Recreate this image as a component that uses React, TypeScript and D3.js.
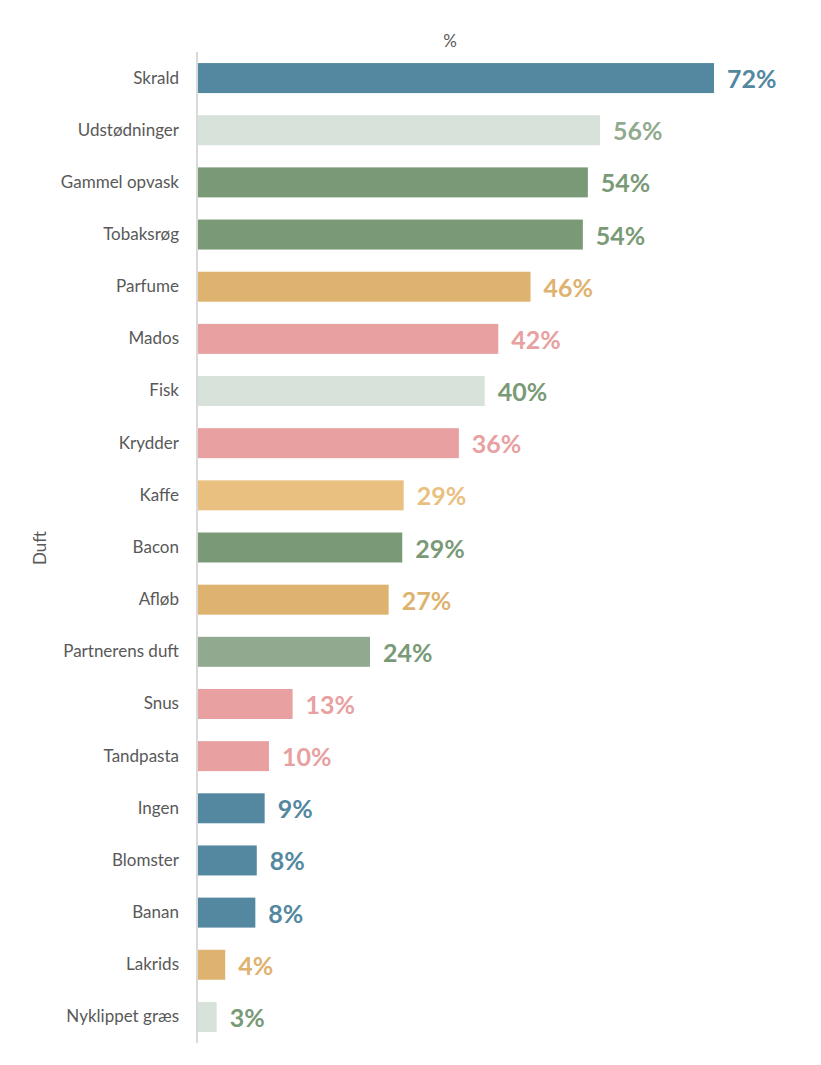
import React, { useEffect, useRef } from "react";
import * as d3 from "d3";

const categories = [
  "Skrald", "Udstødninger", "Gammel opvask", "Tobaksrøg", "Parfume", "Mados", "Fisk",
  "Krydder", "Kaffe", "Bacon", "Afløb", "Partnerens duft", "Snus", "Tandpasta", "Ingen",
  "Blomster", "Banan", "Lakrids", "Nyklippet græs",
];
const values = [72, 56.1, 54.4, 53.7, 46.4, 41.9, 40.0, 36.4, 28.7, 28.5, 26.6, 24.0, 13.2, 9.9, 9.3, 8.2, 8.0, 3.8, 2.6];

const BLUE = "#5388a0";
const PALE = "#d7e2da";
const GREEN = "#7a9a77";
const SAGE = "#91aa8f";
const ORANGE = "#deb26f";
const SAND = "#e9c080";
const PINK = "#e8a0a1";

const barColors = [BLUE, PALE, GREEN, GREEN, ORANGE, PINK, PALE, PINK, SAND, GREEN, ORANGE, SAGE, PINK, PINK, BLUE, BLUE, BLUE, ORANGE, PALE];
const labelColors = [BLUE, SAGE, GREEN, GREEN, ORANGE, PINK, GREEN, PINK, SAND, GREEN, ORANGE, GREEN, PINK, PINK, BLUE, BLUE, BLUE, ORANGE, GREEN];

const W = 821;
const H = 1065;
const FONT = "Lato, 'Noto Sans', sans-serif";

export default function App() {
  const ref = useRef<SVGSVGElement>(null);

  useEffect(() => {
    const svg = d3.select(ref.current);
    svg.selectAll("*").remove();

    const m = { t: 52, l: 198 };
    const x = d3.scaleLinear().domain([0, 72]).range([m.l, 714]);
    const y = d3.scaleBand<string>()
      .domain(categories)
      .range([m.t, 1043])
      .paddingInner(0.425)
      .paddingOuter(0.2125);

    const rows = svg.append("g")
      .selectAll("g")
      .data(categories)
      .enter()
      .append("g");

    rows.append("rect")
      .attr("x", x(0))
      .attr("y", (d) => y(d)!)
      .attr("height", y.bandwidth())
      .attr("width", (d, i) => x(values[i]) - x(0))
      .attr("fill", (d, i) => barColors[i]);

    rows.append("text")
      .attr("x", (d, i) => x(values[i]) + 13)
      .attr("y", (d) => y(d)! + y.bandwidth() / 2 + 1)
      .attr("dy", "0.36em")
      .style("font-family", FONT)
      .style("font-size", "25px")
      .style("font-weight", 700)
      .style("fill", (d, i) => labelColors[i])
      .text((d, i) => `${Math.round(values[i])}%`);

    const axis = d3.axisLeft(y).tickSize(0).tickPadding(18);
    const gAxis = svg.append("g")
      .attr("transform", `translate(${m.l - 1},0)`)
      .call(axis);
    gAxis.select(".domain").remove();
    gAxis.selectAll("text")
      .style("font-family", FONT)
      .style("font-size", "17px")
      .style("fill", "#595959");

    // vertical axis line
    svg.append("line")
      .attr("x1", 197).attr("x2", 197)
      .attr("y1", 52).attr("y2", 1043)
      .attr("stroke", "#d9d9d9")
      .attr("stroke-width", 2);

    svg.append("text")
      .attr("x", 450)
      .attr("y", 47)
      .attr("text-anchor", "middle")
      .style("font-family", FONT)
      .style("font-size", "17px")
      .style("fill", "#595959")
      .text("%");

    svg.append("text")
      .attr("transform", `translate(46,548) rotate(-90)`)
      .attr("text-anchor", "middle")
      .style("font-family", FONT)
      .style("font-size", "17px")
      .style("fill", "#595959")
      .text("Duft");
  }, []);

  return (
    <svg ref={ref} width={W} height={H} style={{ display: "block", position: "absolute", left: 0, top: 0, background: "#fff" }} />
  );
}
